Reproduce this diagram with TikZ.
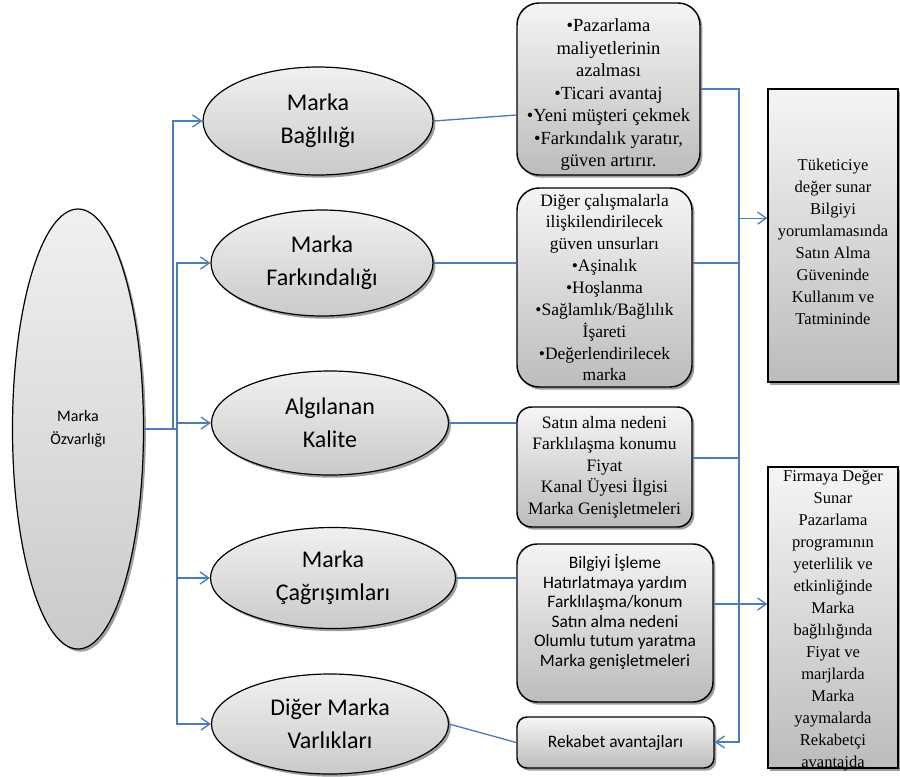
\documentclass[tikz,border=0pt]{standalone}
\usepackage{fontspec}
\setmainfont{Liberation Serif}
\newfontfamily\carlito{Carlito}
\usetikzlibrary{shapes.geometric,shadows,arrows.meta}

\definecolor{linkblue}{RGB}{74,126,187}
\definecolor{boxTop}{RGB}{245,245,245}
\definecolor{boxBot}{RGB}{188,188,188}
\definecolor{ovTop}{RGB}{240,240,240}
\definecolor{ovBot}{RGB}{202,202,202}

\tikzset{
  conn/.style={draw=linkblue, line width=1pt},
  arrowed/.style={-{Straight Barb[length=6.5pt,width=9pt]}},
  shade3d/.style={drop shadow={shadow xshift=1.8pt, shadow yshift=-2pt, fill=black, opacity=0.38}},
  oval/.style={ellipse, draw=black, line width=0.9pt, inner sep=0pt, align=center,
    top color=ovTop, bottom color=ovBot, shade3d},
  bigtext/.style={font=\carlito\fontsize{18}{24.75}\selectfont},
  rbox/.style={rectangle, draw=black, line width=1.1pt, inner sep=1pt, align=center,
    top color=boxTop, bottom color=boxBot, shade3d},
  sbox/.style={rectangle, draw=black, line width=0.9pt, inner sep=0pt, align=center,
    top color=boxTop, bottom color=boxBot, shade3d,
    font=\fontsize{12.4}{16.5}\selectfont},
  sidetext/.style={inner sep=0pt, align=center, font=\fontsize{12.4}{16.5}\selectfont},
  serifbody/.style={font=\fontsize{13.1}{16.4}\selectfont},
  sansbody/.style={font=\carlito\fontsize{13.1}{14.7}\selectfont}
}

\begin{document}
\begin{tikzpicture}[x=0.75pt, y=-0.75pt]
\useasboundingbox (0,0) rectangle (900,776);

% root of the model
\node[oval, minimum width=98.25pt, minimum height=330pt,
      font=\carlito\fontsize{12}{17}\selectfont] (root) at (78,429) {Marka\\Özvarlığı};

% five dimensions
\node[oval, bigtext, minimum width=172.5pt, minimum height=81pt]    (e1) at (318,121) {Marka\\Bağlılığı};
\node[oval, bigtext, minimum width=166.5pt, minimum height=79.5pt]  (e2) at (322,263) {Marka\\Farkındalığı};
\node[oval, bigtext, minimum width=177.75pt, minimum height=78pt]   (e3) at (330,423) {Algılanan\\Kalite};
\node[oval, bigtext, minimum width=183.75pt, minimum height=75.75pt] (e4) at (333,578) {Marka\\Çağrışımları};
\node[oval, bigtext, minimum width=177.75pt, minimum height=75pt]   (e5) at (330,724) {Diğer Marka\\Varlıkları};

% what each dimension brings
\node[rbox, rounded corners=16.5pt, minimum width=137.25pt, minimum height=129pt,
      font=\fontsize{13.9}{16.9}\selectfont] (b1) at (608.5,89)
  {\rule{0pt}{18.5pt}•Pazarlama\\maliyetlerinin\\azalması\\•Ticari avantaj\\•Yeni müşteri çekmek\\•Farkındalık yaratır,\\güven artırır.};
\node[rbox, serifbody, rounded corners=16.5pt, minimum width=131.25pt, minimum height=149.25pt] (b2) at (604.5,287.5)
  {Diğer çalışmalarla\\ilişkilendirilecek\\güven unsurları\\•Aşinalık\\•Hoşlanma\\•Sağlamlık/Bağlılık\\İşareti\\•Değerlendirilecek\\marka};
\node[rbox, serifbody, font=\fontsize{13.1}{16.1}\selectfont, rounded corners=11pt,
      minimum width=131.25pt, minimum height=90pt] (b3) at (604.5,467)
  {Satın alma nedeni\\Farklılaşma konumu\\Fiyat\\Kanal Üyesi İlgisi\\Marka Genişletmeleri};
\node[rbox, sansbody, rounded corners=15pt, minimum width=147pt, minimum height=118.5pt] (b4) at (615,623)
  {Bilgiyi İşleme\\Hatırlatmaya yardım\\Farklılaşma/konum\\Satın alma nedeni\\Olumlu tutum yaratma\\Marka genişletmeleri\rule[-19pt]{0pt}{0pt}};
\node[rbox, sansbody, rounded corners=7.5pt, minimum width=147.75pt, minimum height=38.25pt] (b5) at (615.5,742.5)
  {Rekabet avantajları};

% value outcomes
\node[sbox, minimum width=97.5pt, minimum height=219.75pt] (r1) at (833,235.5) {};
\node[sidetext] (r1t) at ([yshift=-5pt]r1.center)
  {Tüketiciye\\değer sunar\\Bilgiyi\\yorumlamasında\\Satın Alma\\Güveninde\\Kullanım ve\\Tatmininde};
\node[sbox, minimum width=97.5pt, minimum height=225.75pt] (r2) at (833,617.5) {};
\node[sidetext] (r2t) at ([yshift=-2.5pt]r2.center)
  {Firmaya Değer\\Sunar\\Pazarlama\\programının\\yeterlilik ve\\etkinliğinde\\Marka\\bağlılığında\\Fiyat ve\\marjlarda\\Marka\\yaymalarda\\Rekabetçi\\avantajda};

% root to dimensions
\draw[conn, arrowed] (root.east) -- ++(29,0) |- (e1.west);
\foreach \e in {e2,e3,e4,e5}
  \draw[conn, arrowed] (root.east) -- ++(33,0) |- (\e.west);

% dimensions to their contributions
\coordinate (b1in) at ([yshift=-19.5pt]b1.west);
\draw[conn] (e1.east) -- (b1in);
\draw[conn] (e2.east) -- (e2.east -| b2.west);
\draw[conn] (e3.east) -- (e3.east -| b3.west);
\draw[conn] (e4.east) -- (e4.east -| b4.west);
\draw[conn] (e5.east) -- (b5.west);

% collecting bus on the right
\coordinate (bus) at (739,742);
\draw[conn, arrowed] (b1.east) -| (bus) -- (bus -| b5.east);
\draw[conn] (e2.east -| b2.east) -- (e2.east -| bus);
\coordinate (b3out) at ([yshift=6.75pt]b3.east);
\draw[conn] (b3out) -- (b3out -| bus);
\coordinate (r1in) at ([yshift=13pt]r1.west);
\draw[conn, arrowed] (r1in -| bus) -- (r1in);
\coordinate (r2in) at ([yshift=10.1pt]r2.west);
\draw[conn, arrowed] (r2in -| b4.east) -- (r2in);
\end{tikzpicture}
\end{document}
